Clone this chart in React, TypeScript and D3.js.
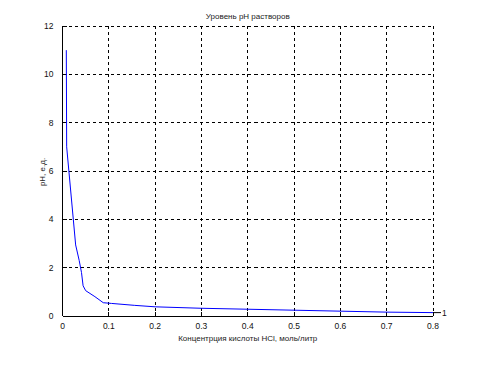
import React from "react";
import * as d3 from "d3";

const concentration = [0.0082, 0.009, 0.0284, 0.036, 0.041, 0.0445, 0.05, 0.07, 0.088, 0.106, 0.156, 0.2, 0.3, 0.4, 0.5, 0.6, 0.7, 0.8];
const phValues = [11, 7, 2.94, 2.3, 1.8, 1.25, 1.05, 0.8, 0.55, 0.52, 0.44, 0.38, 0.32, 0.28, 0.24, 0.2, 0.16, 0.14];
const xTicks = [0, 0.1, 0.2, 0.3, 0.4, 0.5, 0.6, 0.7, 0.8];
const yTicks = [0, 2, 4, 6, 8, 10, 12];
const title = "Уровень pH растворов";
const xLabel = "Концентрция кислоты HCl, моль/литр";
const yLabel = "pH, е.д.";
const seriesLabel = "1";

const W = 493, H = 381;
const L = 62.5, R = 433, T = 26, B = 316;
const font = "Arial, 'Liberation Sans', sans-serif";

export default function App() {
  const x = d3.scaleLinear().domain([0, 0.8]).range([L, R]);
  const y = d3.scaleLinear().domain([0, 12]).range([B, T]);
  const line = d3.line<number>().x((_, i) => x(concentration[i])).y((d) => y(d));
  const lastX = x(concentration[concentration.length - 1]);
  const lastY = y(phValues[phValues.length - 1]);
  return (
    <svg width={W} height={H} style={{ position: "absolute", left: 0, top: 0, background: "#fff" }} fontFamily={font}>
      <rect x={0} y={0} width={W} height={H} fill="#fff" />
      {xTicks.filter((t) => t > 0).map((t) => (
        <line key={"gx" + t} x1={x(t)} x2={x(t)} y1={T} y2={B} stroke="#000" strokeWidth={1} strokeDasharray="3,3" shapeRendering="crispEdges" />
      ))}
      {yTicks.filter((t) => t > 0).map((t) => (
        <line key={"gy" + t} x1={L} x2={R} y1={y(t)} y2={y(t)} stroke="#000" strokeWidth={1} strokeDasharray="3,3" shapeRendering="crispEdges" />
      ))}
      <line x1={L} x2={L} y1={T} y2={B} stroke="#000" strokeWidth={1} shapeRendering="crispEdges" />
      <line x1={L} x2={R} y1={B} y2={B} stroke="#000" strokeWidth={1} shapeRendering="crispEdges" />
      {xTicks.map((t) => (
        <g key={"tx" + t}>
          <line x1={x(t)} x2={x(t)} y1={B} y2={B - 4} stroke="#000" shapeRendering="crispEdges" />
          <text x={x(t)} y={B + 13} fontSize={8.5} textAnchor="middle" fill="#111">{t}</text>
        </g>
      ))}
      {yTicks.map((t) => (
        <g key={"ty" + t}>
          <line x1={L} x2={L + 4} y1={y(t)} y2={y(t)} stroke="#000" shapeRendering="crispEdges" />
          <text x={L - 9} y={y(t) + 3} fontSize={8.5} textAnchor="end" fill="#111">{t}</text>
        </g>
      ))}
      <path d={line(phValues) || ""} fill="none" stroke="#0000ff" strokeWidth={1} />
      <line x1={lastX + 1} x2={lastX + 8} y1={lastY} y2={lastY} stroke="#000" strokeWidth={1} />
      <text x={lastX + 9} y={lastY + 3} fontSize={8.5} fill="#111">{seriesLabel}</text>
      <text x={(L + R) / 2} y={19} fontSize={8} textAnchor="middle" fill="#222">{title}</text>
      <text x={(L + R) / 2} y={341} fontSize={8} textAnchor="middle" fill="#222">{xLabel}</text>
      <text transform={`translate(${45},${(T + B) / 2 + 1}) rotate(-90)`} fontSize={8} textAnchor="middle" fill="#222">{yLabel}</text>
    </svg>
  );
}
